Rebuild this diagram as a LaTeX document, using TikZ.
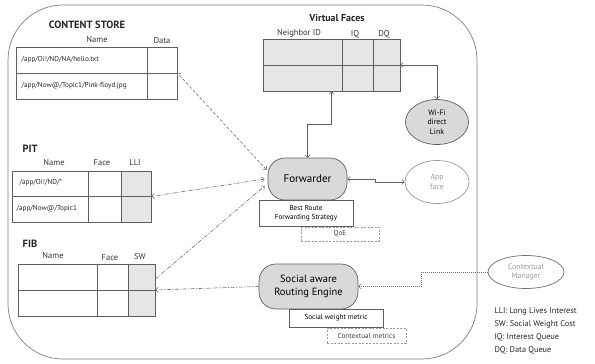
\documentclass[tikz,border=0pt]{standalone}
\usepackage{fontspec}
\setmainfont{PT Sans}
\usetikzlibrary{arrows.meta,shapes.geometric}

\definecolor{lin}{HTML}{5E5E5E}
\definecolor{cellfill}{HTML}{E6E6E6}
\definecolor{boxfill}{HTML}{D9D9D9}
\definecolor{soft}{HTML}{9A9A9A}

\tikzset{
  frame/.style={draw=lin!80, line width=0.7pt, rounded corners=55pt, inner sep=0pt},
  tbl/.style={draw=lin, line width=0.7pt, inner sep=0pt},
  cell/.style={draw=lin, line width=0.7pt},
  ttl/.style={font=\bfseries\fontsize{10.5}{12}\selectfont, text=black!85},
  hdr/.style={font=\fontsize{8.5}{10}\selectfont, text=black!80},
  row/.style={anchor=west, font=\fontsize{7.2}{9}\selectfont, text=black!85},
  engine/.style={draw=lin, line width=0.7pt, fill=boxfill, rounded corners=17pt, align=center, inner sep=0pt},
  sub/.style={draw=lin, line width=0.6pt, fill=white, align=center, inner sep=0pt, font=\fontsize{7.2}{9}\selectfont},
  subdash/.style={draw=soft, line width=0.6pt, dash pattern=on 2pt off 1.5pt, inner sep=0pt, font=\fontsize{7.2}{9}\selectfont, text=black!75},
  oval/.style={ellipse, draw=lin, line width=0.7pt, align=center, inner sep=0pt, font=\fontsize{7.8}{9.5}\selectfont},
  link/.style={draw=lin, line width=0.6pt},
  dlink/.style={draw=lin!90, line width=0.6pt, dash pattern=on 3pt off 2pt},
  dolink/.style={draw=lin!90, line width=0.6pt, dash pattern=on 4pt off 1.5pt on 1pt off 1.5pt},
  dotlink/.style={draw=lin!90, line width=0.6pt, dash pattern=on 1pt off 1pt}
}

\begin{document}
\begin{tikzpicture}[x=1pt, y=-1pt, >={Straight Barb[length=2.5pt,width=5pt]}]
  \useasboundingbox (0,0) rectangle (595,364);

  \node[frame, minimum width=469, minimum height=354] (dev) at (242.5,182) {};

  \node[ttl] (cstitle) at (87,25) {CONTENT STORE};
  \node[hdr] (csname) at (97,40) {Name};
  \node[hdr] (csdata) at (162,41) {Data};
  \node[tbl, minimum width=161, minimum height=52] (cs) at (96.5,73) {};
  \draw[cell] (147,47) -- (147,99);
  \draw[cell] (cs.west) -- (cs.east);
  \node[row] (cs1) at (18,60) {/app/Oi!/ND/NA/hello.txt};
  \node[row] (cs2) at (18,86) {/app/Now@/Topic1/Pink-floyd.jpg};

  \node[ttl] (pittitle) at (30,149) {PIT};
  \node[hdr] (pitname) at (54,163) {Name};
  \node[hdr] (pitface) at (102,163) {Face};
  \node[hdr] (pitlli) at (135,163) {LLI};
  \fill[cellfill] (121,171) rectangle (151,222);
  \node[tbl, minimum width=139, minimum height=51] (pit) at (81.5,196.5) {};
  \draw[cell] (88,171) -- (88,222);
  \draw[cell] (121,171) -- (121,222);
  \draw[cell] (pit.west) -- (pit.east);
  \node[row] (pit1) at (16,183) {/app/Oi!/ND/*};
  \node[row] (pit2) at (13,209) {/app/Now@/Topic1};

  \node[ttl] (fibtitle) at (30,244) {FIB};
  \node[hdr] (fibname) at (53,256) {Name};
  \node[hdr] (fibface) at (110,258) {Face};
  \node[hdr] (fibsw) at (140,257) {SW};
  \fill[cellfill] (128,264) rectangle (155,316);
  \node[tbl, minimum width=137, minimum height=52] (fib) at (86.5,290) {};
  \draw[cell] (97,264) -- (97,316);
  \draw[cell] (128,264) -- (128,316);
  \draw[cell] (fib.west) -- (fib.east);

  \node[ttl, font=\bfseries\fontsize{10}{12}\selectfont] (vftitle) at (337,18) {Virtual Faces};
  \node[hdr] (vfid) at (299,33) {Neighbor ID};
  \node[hdr] (vfiq) at (355,34) {IQ};
  \node[hdr] (vfdq) at (384,34) {DQ};
  \node[tbl, fill=cellfill, minimum width=137, minimum height=52] (vf) at (331.5,65) {};
  \draw[cell] (342,39) -- (342,91);
  \draw[cell] (373,39) -- (373,91);
  \draw[cell] (vf.west) -- (vf.east);

  \node[engine, minimum width=79, minimum height=42, font=\fontsize{11}{13}\selectfont] (fwd) at (307.5,179) {Forwarder};
  \node[sub, minimum width=94, minimum height=26] (strategy) at (306,213) {Best Route\\Forwarding Strategy};
  \node[subdash, minimum width=78, minimum height=14] (qoe) at (340,234) {QoE};

  \node[engine, minimum width=99, minimum height=45, font=\fontsize{10.5}{12.5}\selectfont] (sare) at (308.5,286.5) {Social aware\\Routing Engine};
  \node[sub, minimum width=94, minimum height=18] (swm) at (336,318) {Social weight metric};
  \node[subdash, minimum width=79, minimum height=15] (ctxm) at (366.5,335.5) {Contextual metrics};

  \node[oval, fill=boxfill, minimum width=63, minimum height=45] (wifi) at (437,122) {Wi-Fi\\direct\\Link};
  \node[oval, draw=soft, text=soft, minimum width=64, minimum height=43] (app) at (437,182) {App\\face};
  \node[oval, draw=lin!90, text=soft, minimum width=76, minimum height=33] (ctx) at (526,272) {Contextual\\Manager};

  \node[anchor=north west, align=left, font=\fontsize{8.3}{13}\selectfont, text=black!85] (key) at (491,304)
    {LLI: Long Lives Interest\\SW: Social Weight Cost\\IQ: Interest Queue\\DQ: Data Queue};

  \draw[link, <->] (fwd.north) -- ++(0,-33) -| (vf.south);
  \draw[link, <->] (vf.east) -| (wifi.north);
  \draw[link, <->] (fwd.east) -- ++(28,0) |- (app.west);
  \draw[dlink, <->] ([xshift=-1pt,yshift=9pt]fwd.west) -- (cs.east);
  \draw[dolink, <->] ([xshift=-3pt]fwd.west) -- (pit.east);
  \draw[dolink, ->] ([yshift=11pt]fib.east) -- ([xshift=-3pt,yshift=-7pt]fwd.west);
  \draw[dolink, ->] (sare.west) -- (fib.east);
  \draw[dotlink, ->] (ctx.west) -- ++(-66,0) |- (sare.east);
\end{tikzpicture}
\end{document}
